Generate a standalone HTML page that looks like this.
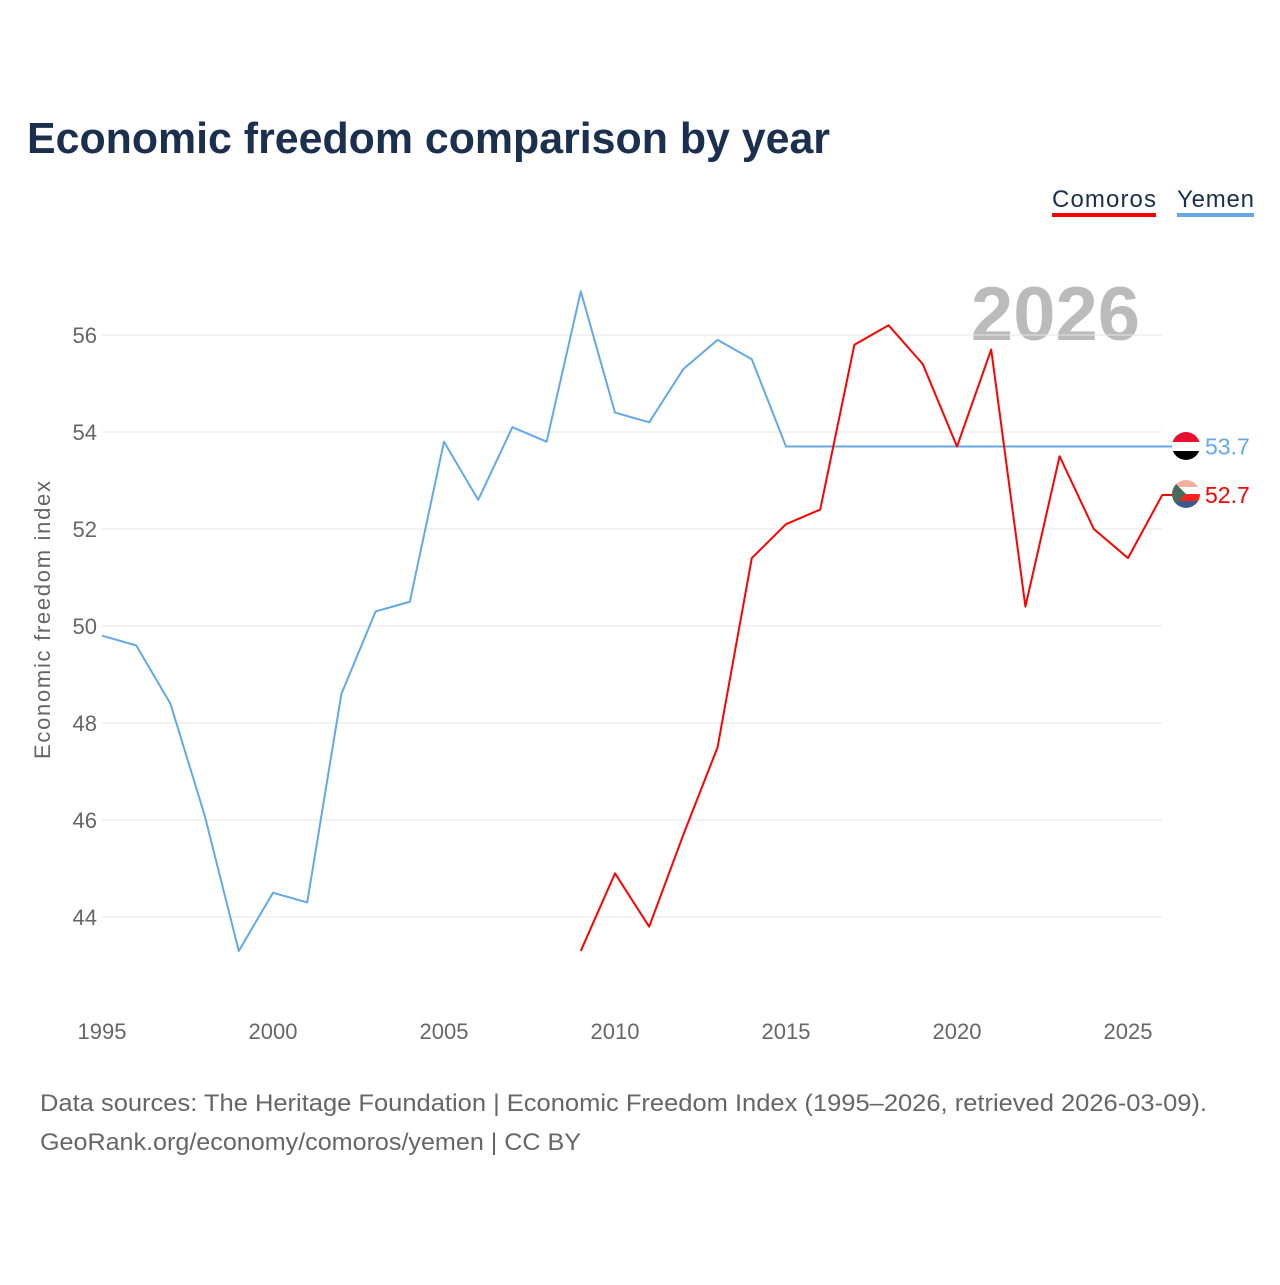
<!DOCTYPE html>
<html><head><meta charset="utf-8"><style>
body{margin:0;background:#fff;font-family:"Liberation Sans",sans-serif;}
</style></head><body>
<svg width="1280" height="1280" xmlns="http://www.w3.org/2000/svg">
<defs>
<clipPath id="fy"><circle cx="1186" cy="446" r="14"/></clipPath>
<clipPath id="fc"><circle cx="1186" cy="494" r="14"/></clipPath>
</defs>
<text x="27" y="153" font-size="44" font-weight="bold" fill="#1b2f4e" textLength="803" lengthAdjust="spacingAndGlyphs">Economic freedom comparison by year</text>
<g>
<text x="1052" y="207" font-size="24" fill="#1b2f4e" textLength="104">Comoros</text>
<rect x="1052" y="213" width="104" height="4" fill="#ff0000"/>
<text x="1177" y="207" font-size="24" fill="#1b2f4e" textLength="77">Yemen</text>
<rect x="1177" y="213" width="77" height="4" fill="#64a8e8"/>
</g>
<text x="1140" y="340" font-size="76" font-weight="bold" fill="#bbbbbb" text-anchor="end">2026</text>
<g id="grid"></g><g id="xt"></g><g id="lines"></g>
<g clip-path="url(#fy)">
<rect x="1172" y="432" width="28" height="10" fill="#e8112d"/><rect x="1172" y="442" width="28" height="9" fill="#fff"/><rect x="1172" y="451" width="28" height="10" fill="#000"/>
</g>
<g clip-path="url(#fc)">
<rect x="1172" y="480" width="28" height="7" fill="#f7b0a0"/><rect x="1172" y="487" width="28" height="7" fill="#fff"/><rect x="1172" y="494" width="28" height="7" fill="#ff2020"/><rect x="1172" y="501" width="28" height="7" fill="#3a5a8c"/><polygon points="1172,480 1186,494 1172,508" fill="#4a6a5a"/>
</g>
<text transform="translate(50,620) rotate(-90)" font-size="22" fill="#666" text-anchor="middle" textLength="278">Economic freedom index</text>
<text x="40" y="1111" font-size="24" fill="#666" textLength="1167" lengthAdjust="spacingAndGlyphs">Data sources: The Heritage Foundation | Economic Freedom Index (1995–2026, retrieved 2026-03-09).</text>
<text x="40" y="1150" font-size="24" fill="#666" textLength="541" lengthAdjust="spacingAndGlyphs">GeoRank.org/economy/comoros/yemen | CC BY</text>
</svg>
<script>
const yTicks=[44,46,48,50,52,54,56];
const xTicks=[1995,2000,2005,2010,2015,2020,2025];
const yemenYears=[1995,1996,1997,1998,1999,2000,2001,2002,2003,2004,2005,2006,2007,2008,2009,2010,2011,2012,2013,2014,2015,2016,2017,2018,2019,2020,2021,2022,2023,2024,2025,2026];
const yemenVals=[49.8,49.6,48.4,46.1,43.3,44.5,44.3,48.6,50.3,50.5,53.8,52.6,54.1,53.8,56.9,54.4,54.2,55.3,55.9,55.5,53.7,53.7,53.7,53.7,53.7,53.7,53.7,53.7,53.7,53.7,53.7,53.7];
const comorosYears=[2009,2010,2011,2012,2013,2014,2015,2016,2017,2018,2019,2020,2021,2022,2023,2024,2025,2026];
const comorosVals=[43.3,44.9,43.8,45.7,47.5,51.4,52.1,52.4,55.8,56.2,55.4,53.7,55.7,50.4,53.5,52.0,51.4,52.7];
const X=y=>102+(y-1995)*34.2, Y=v=>917-(v-44)*48.5;
const NS="http://www.w3.org/2000/svg";
function mk(t,a,p){const e=document.createElementNS(NS,t);for(const k in a)e.setAttribute(k,a[k]);p.appendChild(e);return e;}
const g=document.getElementById('grid');
yTicks.forEach(v=>{
 const l=mk('line',{x1:102,x2:1162,y1:Y(v),y2:Y(v),stroke:'#e6e6e6','stroke-width':1},g);
 
 
 const t=mk('text',{x:97,y:Y(v)+8,'font-size':22,fill:'#666','text-anchor':'end'},g);t.textContent=v;
 
 
});
const xt=document.getElementById('xt');
xTicks.forEach(v=>{
 const t=mk('text',{x:X(v),y:1039,'font-size':22,fill:'#666','text-anchor':'middle'},xt);t.textContent=v;
 
 
});
const L=document.getElementById('lines');
function series(ys,vs,c,name){
 let d=ys.map((y,i)=>(i?'L':'M')+X(y)+','+Y(vs[i])).join('');
 const last=vs[vs.length-1];
 d+='L1172,'+Y(last);
 const p=mk('path',{d:d,fill:'none',stroke:c,'stroke-width':2,'stroke-linejoin':'round'},L);
 
 
 const t=mk('text',{x:1205,y:Y(last)+8,'font-size':23,fill:c},L);t.textContent=last.toFixed(1);
 
 
}
series(yemenYears,yemenVals,'#64a8e8','yemen');
series(comorosYears,comorosVals,'#ff0000','comoros');
</script>
</body></html>
